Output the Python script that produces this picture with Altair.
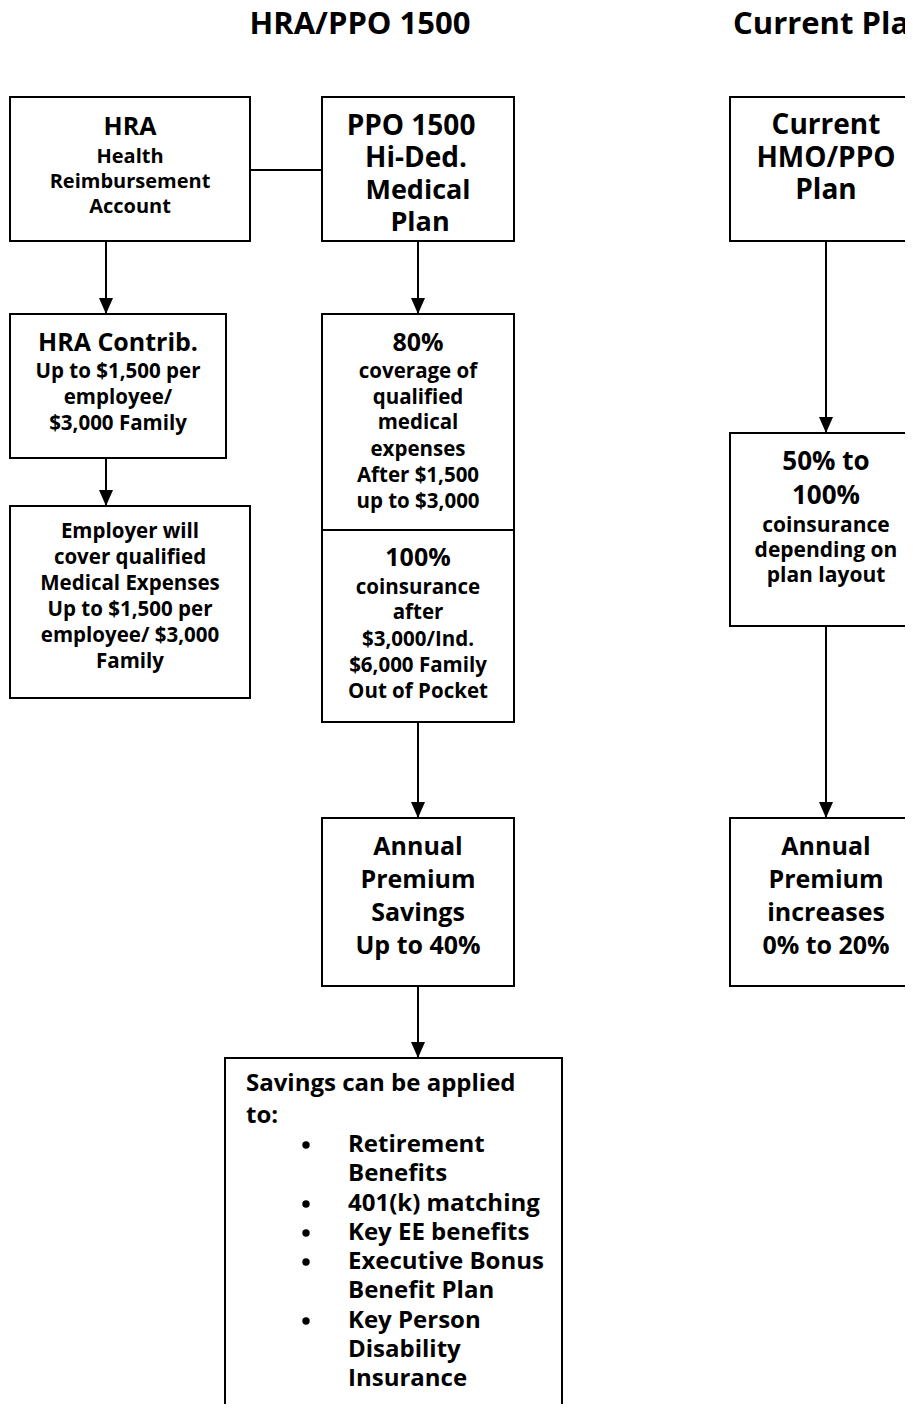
import altair as alt
import pandas as pd

# ---- canvas (page pixel coordinates) ----
W, H = 897, 1396
X0, Y0 = 8, 8

# ---- boxes: left, right, top, bottom ----
box_x1 = [10, 322, 730, 10, 322, 322, 10, 730, 322, 730, 225]
box_x2 = [250, 514, 922, 226, 514, 514, 250, 922, 514, 922, 562]
box_y1 = [97, 97, 97, 314, 314, 530, 506, 433, 818, 818, 1058]
box_y2 = [241, 241, 241, 458, 530, 722, 698, 626, 986, 986, 1440]

# ---- vertical arrows: x, start, tip ----
arrow_x = [106, 418, 826, 106, 418, 826, 418]
arrow_y1 = [241, 241, 241, 458, 722, 626, 986]
arrow_y2 = [314, 314, 433, 506, 818, 818, 1058]

# ---- horizontal connector HRA <-> PPO ----
link_x1 = [250]
link_x2 = [322]
link_y = [170]

# ---- centered texts ----
c_text = [
    "HRA/PPO 1500",
    "HRA", "Health", "Reimbursement", "Account",
    "PPO 1500", "Hi-Ded.", "Medical", "Plan",
    "Current", "HMO/PPO", "Plan",
    "HRA Contrib.", "Up to $1,500 per", "employee/", "$3,000 Family",
    "Employer will", "cover qualified", "Medical Expenses", "Up to $1,500 per", "employee/ $3,000", "Family",
    "80%", "coverage of", "qualified", "medical", "expenses", "After $1,500", "up to $3,000",
    "100%", "coinsurance", "after", "$3,000/Ind.", "$6,000 Family", "Out of Pocket",
    "50% to", "100%", "coinsurance", "depending on", "plan layout",
    "Annual", "Premium", "Savings", "Up to 40%",
    "Annual", "Premium", "increases", "0% to 20%",
]
c_x = [
    360,
    130, 130, 130, 130,
    411, 416, 418, 420,
    826, 826, 826,
    118, 118, 118, 118,
    130, 130, 130, 130, 130, 130,
    418, 418, 418, 418, 418, 418, 418,
    418, 418, 418, 418, 418, 418,
    826, 826, 826, 826, 826,
    418, 418, 418, 418,
    826, 826, 826, 826,
]
c_y = [
    25,
    127, 157, 182, 207,
    127, 159, 191, 223,
    126, 159, 191,
    343, 372, 398, 424,
    532, 558, 584, 610, 636, 662,
    343, 372, 398, 423, 450, 476, 502,
    558, 588, 613, 640, 666, 692,
    462, 496, 526, 551, 576,
    847, 880, 913, 946,
    847, 880, 913, 946,
]
c_fs = [
    31,
    25, 20, 20, 20,
    28, 28, 27, 27,
    28, 28, 28,
    25, 20.5, 20.5, 20.5,
    20.5, 20.5, 20.5, 20.5, 20.5, 20.5,
    25, 20.5, 20.5, 20.5, 20.5, 20.5, 20.5,
    25, 20.5, 20.5, 20.5, 20.5, 20.5,
    26, 26, 21, 21, 21,
    25, 25, 25, 25,
    25, 25, 25, 25,
]

# ---- left-aligned texts ----
l_text = ["Current Plan", "Savings can be applied", "to:",
          "Retirement", "Benefits", "401(k) matching", "Key EE benefits",
          "Executive Bonus", "Benefit Plan", "Key Person", "Disability", "Insurance"]
l_x = [733, 246, 246, 348, 348, 348, 348, 348, 348, 348, 348, 348]
l_y = [25, 1084, 1116, 1145, 1174, 1204, 1233, 1262, 1291, 1321, 1350, 1379]
l_fs = [31, 24, 24, 24, 24, 24, 24, 24, 24, 24, 24, 24]

# ---- bullets ----
bullet_x = [306, 306, 306, 306, 306]
bullet_y = [1145, 1204, 1233, 1262, 1321]

boxes = pd.DataFrame({"x1": box_x1, "x2": box_x2, "y1": box_y1, "y2": box_y2})
arrows = pd.DataFrame({"x": arrow_x, "y1": arrow_y1, "y2": arrow_y2})
links = pd.DataFrame({"x1": link_x1, "x2": link_x2, "y": link_y})
ctext = pd.DataFrame({"t": c_text, "x": c_x, "y": c_y, "fs": c_fs})
ltext = pd.DataFrame({"t": l_text, "x": l_x, "y": l_y, "fs": l_fs})
bullets = pd.DataFrame({"x": bullet_x, "y": bullet_y})

xs = alt.Scale(domain=[X0, X0 + W], nice=False, zero=False)
ys = alt.Scale(domain=[Y0, Y0 + H], nice=False, zero=False, reverse=True)

FONT = "Open Sans"
WEIGHT = "bold"

shafts = alt.Chart(arrows).mark_rule(color="black", strokeWidth=2, clip=True).encode(
    x=alt.X("x:Q", scale=xs, axis=None),
    y=alt.Y("y1:Q", scale=ys, axis=None),
    y2="y2:Q",
)
link_rule = alt.Chart(links).mark_rule(color="black", strokeWidth=2, clip=True).encode(
    x=alt.X("x1:Q", scale=xs, axis=None),
    x2="x2:Q",
    y=alt.Y("y:Q", scale=ys, axis=None),
)
rects = alt.Chart(boxes).mark_rect(fill="white", stroke="black", strokeWidth=2, clip=True).encode(
    x=alt.X("x1:Q", scale=xs, axis=None),
    x2="x2:Q",
    y=alt.Y("y1:Q", scale=ys, axis=None),
    y2="y2:Q",
)
heads = alt.Chart(arrows).mark_point(
    shape="M-0.875,-2L0,0L0.875,-2Z", filled=True, color="black",
    size=256, opacity=1, strokeWidth=0, clip=True,
).encode(
    x=alt.X("x:Q", scale=xs, axis=None),
    y=alt.Y("y2:Q", scale=ys, axis=None),
)
ctexts = alt.Chart(ctext).mark_text(
    font=FONT, fontWeight=WEIGHT, align="center", baseline="middle", color="black"
).encode(
    x=alt.X("x:Q", scale=xs, axis=None),
    y=alt.Y("y:Q", scale=ys, axis=None),
    text="t:N",
    size=alt.Size("fs:Q", scale=None, legend=None),
)
ltexts = alt.Chart(ltext).mark_text(
    font=FONT, fontWeight=WEIGHT, align="left", baseline="middle", color="black"
).encode(
    x=alt.X("x:Q", scale=xs, axis=None),
    y=alt.Y("y:Q", scale=ys, axis=None),
    text="t:N",
    size=alt.Size("fs:Q", scale=None, legend=None),
)
dots = alt.Chart(bullets).mark_point(
    shape="circle", filled=True, color="black", size=55, opacity=1, strokeWidth=0
).encode(
    x=alt.X("x:Q", scale=xs, axis=None),
    y=alt.Y("y:Q", scale=ys, axis=None),
)

chart = alt.layer(shafts, link_rule, rects, heads, ctexts, ltexts, dots).properties(
    width=W, height=H, padding=0, autosize=alt.AutoSizeParams(type="none"),
    background="white",
).configure_view(strokeWidth=0)

chart.save("out.html", embed_options={"renderer": "svg", "actions": False})
